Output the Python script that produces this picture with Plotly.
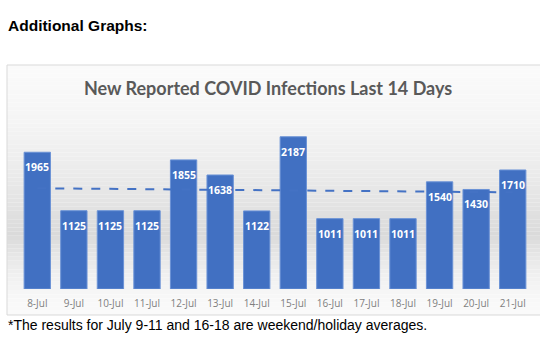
import numpy as np
import plotly.graph_objects as go

dates = ["8-Jul", "9-Jul", "10-Jul", "11-Jul", "12-Jul", "13-Jul", "14-Jul",
         "15-Jul", "16-Jul", "17-Jul", "18-Jul", "19-Jul", "20-Jul", "21-Jul"]
infections = [1965, 1125, 1125, 1125, 1855, 1638, 1122,
              2187, 1011, 1011, 1011, 1540, 1430, 1710]

W, H = 540, 337
TOP, BOT = 115, 289          # plot area pixel rows
LEFT, RIGHT = 19, 531
PH = BOT - TOP

def py(pix):  # pixel row -> paper y
    return (BOT - pix) / PH

def px(pix):
    return (pix - LEFT) / (RIGHT - LEFT)

xi = np.arange(len(infections))
slope, icpt = np.polyfit(xi, infections, 1)
trend = slope * xi + icpt

fig = go.Figure()
fig.add_trace(go.Bar(
    x=dates, y=infections,
    marker=dict(color="#4170c2", line=dict(color="#6b92d6", width=1),
                pattern=dict(shape="")),
    showlegend=False,
))
fig.add_trace(go.Scatter(
    x=dates, y=trend, mode="lines",
    line=dict(color="#4472C4", width=2, dash="dash"), showlegend=False,
))

for d, v in zip(dates, infections):
    fig.add_annotation(x=d, y=v, text=f"<b>{v}</b>", showarrow=False,
                       xanchor="center", yanchor="top", yshift=-6,
                       font=dict(family="Open Sans", size=10.5, color="white"))

shapes = []
# gradient background of the chart panel
y0p, ymid, y1p = 65, 235, 315
n = 60
for i in range(n):
    a = y0p + (y1p - y0p) * i / n
    b = y0p + (y1p - y0p) * (i + 1) / n
    c = (a + b) / 2
    if c < ymid:
        t = (c - y0p) / (ymid - y0p)
    else:
        t = (y1p - c) / (y1p - ymid)
    t = t ** 1.6
    v = int(round(250 - (250 - 218) * t))
    shapes.append(dict(type="rect", xref="paper", yref="paper",
                       x0=px(7), x1=px(541), y0=py(b), y1=py(a),
                       fillcolor=f"rgb({v},{v},{v})", line=dict(width=0),
                       layer="below"))
shapes.append(dict(type="rect", xref="paper", yref="paper",
                   x0=px(7), x1=px(545), y0=py(315), y1=py(65),
                   fillcolor="rgba(0,0,0,0)", line=dict(color="#d9d9d9", width=1),
                   layer="below"))
fig.update_layout(shapes=shapes)

fig.add_annotation(text="<b>Additional Graphs:</b>", xref="paper", yref="paper",
                   x=px(6), y=py(25), xanchor="left", yanchor="middle",
                   showarrow=False,
                   font=dict(family="Liberation Sans", size=15.5, color="black"))
fig.add_annotation(text="New Reported COVID Infections Last 14 Days",
                   xref="paper", yref="paper", x=px(268), y=py(88),
                   xanchor="center", yanchor="middle", showarrow=False,
                   font=dict(family="Lato", size=18, color="#595959", weight="bold"))
fig.add_annotation(text="*The results for July 9-11 and 16-18 are weekend/holiday averages.",
                   xref="paper", yref="paper", x=px(6), y=py(325),
                   xanchor="left", yanchor="middle", showarrow=False,
                   font=dict(family="Liberation Sans", size=14, color="black"))

fig.update_layout(
    width=W, height=H,
    margin=dict(l=LEFT, r=W - RIGHT, t=TOP, b=H - BOT),
    paper_bgcolor="white", plot_bgcolor="rgba(0,0,0,0)",
    bargap=0.28,
    xaxis=dict(type="category", showgrid=False, zeroline=False, showline=False,
               ticks="", tickfont=dict(family="Open Sans", size=10, color="#7f7f7f"),
               ticklabelstandoff=7),
    yaxis=dict(range=[0, 2500], visible=False, showgrid=False),
)

fig.write_html("out.html")
